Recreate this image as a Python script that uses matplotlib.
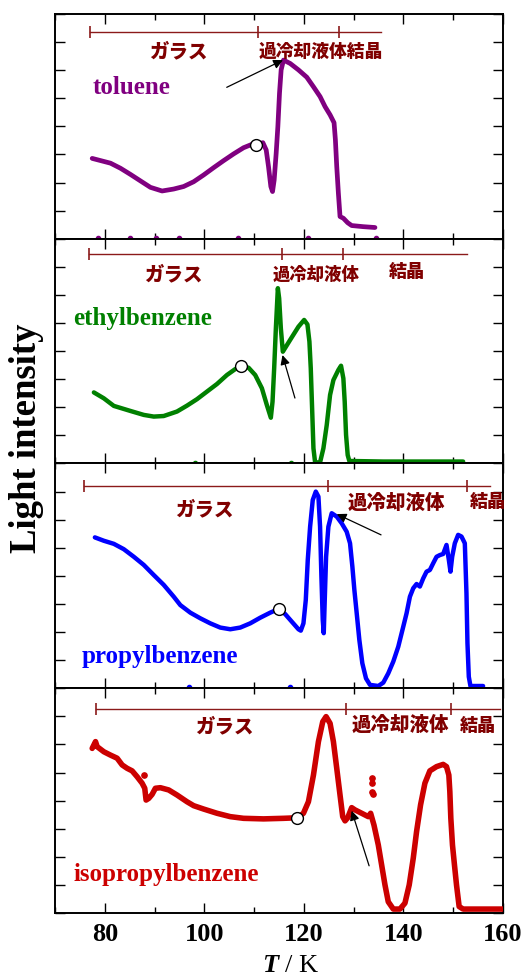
import numpy as np
import matplotlib.pyplot as plt
from matplotlib.ticker import MultipleLocator, NullFormatter

plt.rcParams['font.family'] = ['Liberation Serif', 'DejaVu Sans']
plt.rcParams['mathtext.fontset'] = 'custom'
plt.rcParams['mathtext.it'] = 'Liberation Serif:bold:italic'

# ---- data ----
tol_T = [77.47, 81.15, 83.15, 85.16, 87.16, 89.17, 91.51, 93.85, 95.85, 97.86, 99.86,
         101.87, 103.87, 105.88, 107.88, 109.55, 110.42, 111.76, 112.43, 112.89, 113.36,
         113.70, 114.03, 114.43, 114.77, 115.10, 115.43, 115.90, 117.24, 118.91, 120.58,
         121.92, 123.25, 124.26, 125.26, 126.06, 126.33, 126.6, 126.93, 127.26, 127.93,
         128.8, 129.6, 131.94, 134.28]
tol_I = [2.86, 2.69, 2.51, 2.29, 2.06, 1.83, 1.70, 1.77, 1.86, 2.03, 2.27,
         2.53, 2.78, 3.02, 3.24, 3.36, 3.33, 3.42, 3.16, 2.57, 1.86,
         1.68, 2.09, 3.04, 3.99, 5.18, 6.01, 6.36, 6.24, 6.01, 5.75,
         5.41, 5.06, 4.70, 4.41, 4.13, 3.52, 2.57, 1.62, 0.79, 0.73,
         0.57, 0.47, 0.43, 0.40]
tol_dots = [78.6, 85.1, 90.3, 94.9, 106.7, 120.8, 134.5]

eth_T = [77.81, 79.81, 81.82, 85.16, 87.83, 89.84, 91.84, 94.51, 96.52, 98.53, 100.53,
         102.54, 104.54, 106.21, 107.35, 108.88, 110.22, 111.56, 112.56, 113.36, 113.70,
         114.03, 114.37, 114.77, 115.03, 115.37, 115.77, 117.24, 118.91, 120.05, 120.71,
         121.11, 121.38, 121.65, 121.92, 122.25, 123.25, 123.92, 124.59, 125.26, 125.93,
         126.93, 127.46, 127.93, 128.2, 128.47, 128.8, 129.13, 135.95, 151.99]
eth_I = [2.53, 2.32, 2.05, 1.87, 1.73, 1.67, 1.69, 1.85, 2.06, 2.29, 2.56,
         2.83, 3.15, 3.36, 3.47, 3.41, 3.15, 2.68, 2.08, 1.63, 2.20,
         3.39, 4.81, 6.24, 5.88, 4.81, 3.98, 4.40, 4.87, 5.11, 4.95,
         4.34, 3.39, 1.97, 0.54, 0.04, 0.04, 0.54, 1.37, 2.44, 2.97,
         3.33, 3.48, 3.03, 2.20, 1.02, 0.30, 0.09, 0.07, 0.07]
eth_dots = [98.1, 117.5]

pro_T = [78.01, 79.81, 81.82, 83.82, 85.83, 87.83, 89.84, 91.84, 93.85, 95.18, 97.19,
         99.19, 101.2, 103.2, 105.21, 107.21, 109.22, 111.22, 113.23, 114.90, 116.24,
         117.57, 118.91, 119.38, 119.91, 120.38, 120.78, 121.25, 121.78, 122.39, 122.92,
         123.25, 123.52, 123.79, 123.99, 124.19, 124.46, 124.92, 125.59, 126.6, 127.6,
         128.6, 129.27, 129.74, 130.14, 130.61, 131.14, 131.74, 132.48, 133.28, 134.95,
         135.95, 136.95, 137.96, 138.96, 139.96, 140.63, 141.3, 141.97, 142.64, 143.3,
         143.97, 144.64, 145.31, 145.98, 146.65, 147.31, 147.98, 148.65, 149.12, 149.45,
         149.79, 150.32, 150.99, 151.66, 152.33, 152.66, 152.86, 153.13, 153.46, 156.0]
pro_I = [5.37, 5.25, 5.14, 4.95, 4.68, 4.39, 4.03, 3.68, 3.26, 2.96, 2.69,
         2.49, 2.31, 2.16, 2.10, 2.16, 2.31, 2.51, 2.69, 2.82, 2.64,
         2.37, 2.10, 2.05, 2.31, 3.14, 4.57, 5.75, 6.70, 7.00, 6.82,
         5.75, 3.97, 2.43, 1.96, 3.14, 4.68, 5.75, 6.23, 6.11, 5.87,
         5.57, 5.16, 4.33, 3.50, 2.67, 1.72, 0.89, 0.35, 0.12, 0.08,
         0.20, 0.53, 0.95, 1.48, 2.19, 2.67, 3.26, 3.56, 3.71, 3.62,
         3.91, 4.15, 4.21, 4.45, 4.68, 4.74, 4.78, 5.10, 4.57, 4.15,
         4.68, 5.16, 5.46, 5.40, 5.16, 3.38, 1.60, 0.41, 0.08, 0.08]
pro_dots = [97.0, 117.3]

iso_T = [77.47, 78.14, 78.47, 79.81, 81.15, 82.48, 83.49, 84.49, 85.49, 86.50, 87.50,
         88.03, 88.30, 88.83, 89.50, 90.17, 91.17, 92.84, 94.51, 96.52, 97.86, 99.86,
         102.54, 105.21, 107.88, 111.89, 115.90, 118.71, 119.91, 120.91, 121.92, 122.92,
         123.79, 124.46, 125.26, 125.93, 126.6, 127.26, 127.8, 128.27, 128.8, 129.6,
         130.27, 131.61, 132.94, 133.41, 134.08, 134.95, 135.62, 136.29, 136.95, 137.96,
         139.29, 140.3, 141.16, 141.97, 142.64, 143.44, 144.31, 145.31, 146.65, 147.98,
         148.65, 149.12, 149.32, 149.52, 149.85, 150.25, 150.66, 151.19, 151.99, 160.0]
iso_I = [5.86, 6.10, 5.92, 5.74, 5.62, 5.51, 5.27, 5.15, 5.06, 4.85, 4.62,
         4.44, 4.02, 4.08, 4.22, 4.44, 4.46, 4.38, 4.20, 3.96, 3.82, 3.70,
         3.55, 3.43, 3.37, 3.35, 3.37, 3.39, 3.55, 3.96, 4.91, 6.10,
         6.81, 6.99, 6.75, 6.10, 5.15, 4.20, 3.43, 3.28, 3.39, 3.75,
         3.67, 3.55, 3.43, 3.55, 3.13, 2.42, 1.71, 1.00, 0.40, 0.14,
         0.14, 0.35, 1.00, 1.95, 2.90, 3.85, 4.62, 5.06, 5.21, 5.29,
         5.21, 4.91, 4.32, 3.37, 2.42, 1.71, 1.00, 0.23, 0.14, 0.14]
# loose points off the main trace
iso_jump_T = [133.75, 133.75, 133.61, 133.95, 87.83]
iso_jump_I = [4.79, 4.62, 4.32, 4.22, 4.91]

names = ['toluene', 'ethylbenzene', 'propylbenzene', 'isopropylbenzene']
colors = ['#800080', '#008000', '#0000FF', '#CC0000']
widths = [3.4, 3.2, 3.2, 4.0]
curves = [(tol_T, tol_I), (eth_T, eth_I), (pro_T, pro_I), (iso_T, iso_I)]
dots = [tol_dots, eth_dots, pro_dots, []]

# Tg open circles
tg_T = [110.42, 107.35, 114.90, 118.71]
tg_I = [3.33, 3.47, 2.82, 3.39]

# phase bars: cap positions, end of line, level
phase_caps = [[77.0, 110.8, 127.0], [76.9, 115.6, 127.8], [75.9, 124.8, 152.7],
              [78.2, 128.5, 149.6]]
phase_end = [135.5, 152.7, 157.3, 159.4]
phase_y = [7.36, 7.45, 7.21, 7.27]

# labels inside panels: (text, x, y, size, ha)
phase_texts = [
    [('ガラス', 94.7, 6.64, 14, 'center'), ('過冷却液体結晶', 110.8, 6.64, 12.8, 'left')],
    [('ガラス', 93.8, 6.71, 14, 'center'), ('過冷却液体', 122.5, 6.71, 12.5, 'center'),
     ('結晶', 140.7, 6.83, 13, 'center')],
    [('ガラス', 100.1, 6.36, 14, 'center'), ('過冷却液体', 138.6, 6.60, 14, 'center'),
     ('結晶', 153.3, 6.66, 13, 'left')],
    [('ガラス', 104.1, 6.62, 14, 'center'), ('過冷却液体', 139.3, 6.68, 14, 'center'),
     ('結晶', 155.0, 6.68, 13, 'center')],
]
name_pos = [(77.5, 5.39), (73.6, 5.17), (75.4, 1.12), (73.7, 1.38)]
arrows = [((104.5, 5.39), (115.8, 6.36)), ((118.2, 2.33), (115.7, 3.86)),
          ((135.5, 5.46), (126.6, 6.20)), ((133.1, 1.68), (129.6, 3.64))]

fig = plt.figure(figsize=(5.26, 9.76), dpi=100)
W, H = 526, 976
left, right = 55, 503
top, bottom = 14, 913
ph = (bottom - top) / 4
jp = ['Noto Sans CJK JP', 'DejaVu Sans']
bar_color = '#8B1A1A'
txt_color = '#800000'

for i in range(4):
    y0 = top + ph * (i + 1)
    ax = fig.add_axes([left / W, 1 - y0 / H, (right - left) / W, ph / H])
    ax.set_xlim(70, 160)
    ax.set_ylim(0, 8)
    T, I = curves[i]
    ax.plot(T, I, color=colors[i], lw=widths[i], solid_joinstyle='round',
            solid_capstyle='round', zorder=3)
    if i == 3:
        ax.plot(iso_jump_T, iso_jump_I, 'o', color=colors[i], ms=3.8, zorder=3)
    if dots[i]:
        ax.plot(dots[i], [0.03] * len(dots[i]), 'o', color=colors[i], ms=3,
                clip_on=False, zorder=4)
    ax.plot(tg_T[i], tg_I[i], 'o', mfc='white', mec='black', mew=1.0, ms=8.5,
            zorder=5)

    # phase bar
    caps = phase_caps[i]
    py = phase_y[i]
    ax.plot([caps[0], phase_end[i]], [py, py], color=bar_color, lw=1.0, zorder=2)
    ax.plot(caps, [py] * len(caps), '|', color=bar_color, ms=9, mew=1.2, zorder=2)
    for txt, tx, ty, sz, ha in phase_texts[i]:
        ax.text(tx, ty, txt, family=jp, fontweight='black', fontsize=sz,
                color=txt_color, ha=ha, va='center')

    ax.text(name_pos[i][0], name_pos[i][1], names[i], fontsize=18,
            fontweight='bold', color=colors[i], ha='left', va='center')

    (x1, y1), (x2, y2) = arrows[i]
    ax.annotate('', xy=(x2, y2), xytext=(x1, y1),
                arrowprops=dict(arrowstyle='-|>', color='black', lw=0.9,
                                mutation_scale=14, shrinkA=0, shrinkB=0))

    ax.xaxis.set_major_locator(MultipleLocator(20))
    ax.xaxis.set_minor_locator(MultipleLocator(10))
    ax.yaxis.set_major_locator(MultipleLocator(1))
    ax.tick_params(which='both', direction='in', top=True, right=True, width=1.0)
    ax.tick_params(which='major', length=7)
    ax.tick_params(which='minor', length=4.5)
    ax.set_yticklabels([])
    for s in ax.spines.values():
        s.set_linewidth(1.4)
    if i < 3:
        ax.xaxis.set_major_formatter(NullFormatter())
    else:
        ax.tick_params(axis='x', which='major', labelsize=19, pad=7)
        for lab in ax.get_xticklabels():
            lab.set_fontweight('bold')

fig.text(27 / W, 1 - 438 / H, 'Light intensity', rotation=90, fontsize=26.5,
         fontweight='bold', ha='center', va='center')
fig.text(291 / W, 1 - 966 / H, '$T$ / K', fontsize=19, ha='center', va='center')

fig.savefig('out.png', dpi=100)
